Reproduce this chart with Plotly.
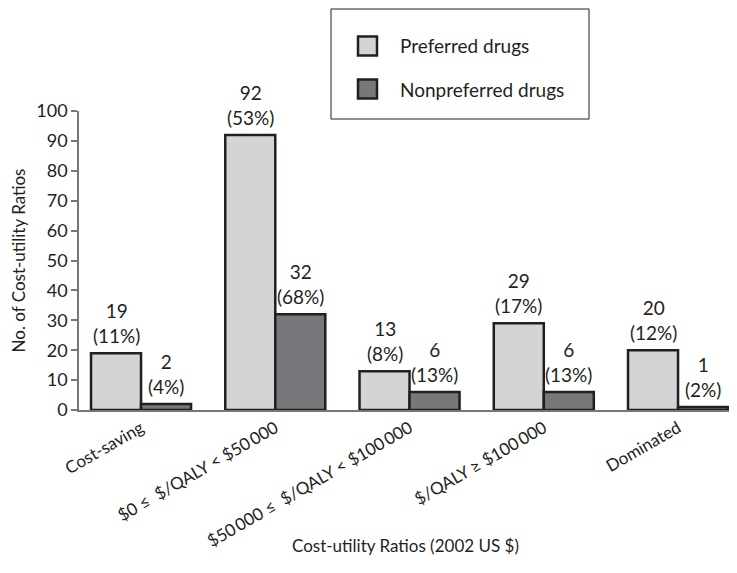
import plotly.graph_objects as go

categories = [
    "Cost-saving",
    "$0 \u2264 &nbsp;$/QALY &lt; $50\u2009000",
    "$50\u2009000 \u2264 &nbsp;$/QALY &lt; $100\u2009000",
    "$/QALY \u2265 $100\u2009000",
    "Dominated",
]
preferred = [19, 92, 13, 29, 20]
preferred_pct = ["11%", "53%", "8%", "17%", "12%"]
nonpreferred = [2, 32, 6, 6, 1]
nonpreferred_pct = ["4%", "68%", "13%", "13%", "2%"]
y_ticks = [0, 10, 20, 30, 40, 50, 60, 70, 80, 90, 100]

FONT = "Lato, 'Open Sans', sans-serif"
INK = "#231f20"
LIGHT = "#d3d4d6"
DARK = "#77787b"

xpos = list(range(len(categories)))

fig = go.Figure()
fig.add_trace(go.Bar(x=xpos, y=preferred, name="Preferred drugs",
                     marker=dict(color=LIGHT, line=dict(color=INK, width=2.5)),
                     showlegend=False))
fig.add_trace(go.Bar(x=xpos, y=nonpreferred, name="Nonpreferred drugs",
                     marker=dict(color=DARK, line=dict(color=INK, width=2.5)),
                     showlegend=False))

# page body has an 8px margin; figure is sized/offset to compensate
OFF = 8
W, H = 737 - OFF, 573 - OFF
PL, PT, PR, PB = 79, 111, 730, 410          # plot area in window pixels
L, T = PL - OFF, PT - OFF
R = W - (PR - OFF)
B = H - (PB - OFF)

def px_x(p):
    return (p - PL) / (PR - PL)

def px_y(p):
    return (PB - p) / (PB - PT)

annotations = []
half = (1 - 0.255) / 4
for i in xpos:
    for val, pct, dx in ((preferred[i], preferred_pct[i], -half),
                         (nonpreferred[i], nonpreferred_pct[i], half)):
        annotations.append(dict(x=i + dx, y=val, xref="x", yref="y",
                                text=f"{val}<br>({pct})", showarrow=False,
                                yanchor="bottom", yshift=4,
                                font=dict(family=FONT, size=19, color=INK)))

shapes = [
    dict(type="rect", xref="paper", yref="paper",
         x0=px_x(331), x1=px_x(589), y0=px_y(119), y1=px_y(9),
         line=dict(color=INK, width=1), fillcolor="white"),
]
for cy, col, label in ((46, LIGHT, "Preferred drugs"), (89, DARK, "Nonpreferred drugs")):
    shapes.append(dict(type="rect", xref="paper", yref="paper",
                       x0=px_x(358), x1=px_x(377), y0=px_y(cy + 9.5), y1=px_y(cy - 9.5),
                       line=dict(color=INK, width=2.5), fillcolor=col))
    annotations.append(dict(x=px_x(398), y=px_y(cy), xref="paper", yref="paper",
                            xanchor="left", yanchor="middle", showarrow=False,
                            text=label, font=dict(family=FONT, size=19, color=INK)))

# x-axis title
annotations.append(dict(x=px_x(405), y=px_y(545), xref="paper", yref="paper",
                        xanchor="center", yanchor="middle", showarrow=False,
                        text="Cost-utility Ratios (2002 US $)",
                        font=dict(family=FONT, size=17, color=INK)))

fig.update_layout(
    width=W, height=H,
    margin=dict(l=L, r=R, t=T, b=B, pad=0, autoexpand=False),
    barmode="group", bargap=0.255, bargroupgap=0,
    plot_bgcolor="white", paper_bgcolor="white",
    font=dict(family=FONT, color=INK),
    shapes=shapes, annotations=annotations,
    xaxis=dict(range=[-0.462, 4.387], tickmode="array", tickvals=xpos,
               ticktext=categories, tickangle=-30, showline=True,
               linecolor="#777", linewidth=1.5, ticks="", showgrid=False,
               zeroline=False, automargin=False,
               tickfont=dict(size=17, family=FONT, color=INK)),
    yaxis=dict(range=[0, 100], tickmode="array", tickvals=y_ticks,
               showline=True, linecolor="#777", linewidth=1.5, ticks="outside",
               ticklen=6, tickcolor="#777", tickwidth=1.5, showgrid=False,
               zeroline=False, automargin=False,
               tickfont=dict(size=18, family=FONT, color=INK),
               title=dict(text="No. of Cost-utility Ratios", standoff=9,
                          font=dict(size=17, family=FONT, color=INK))),
)

fig.write_html("out.html")
